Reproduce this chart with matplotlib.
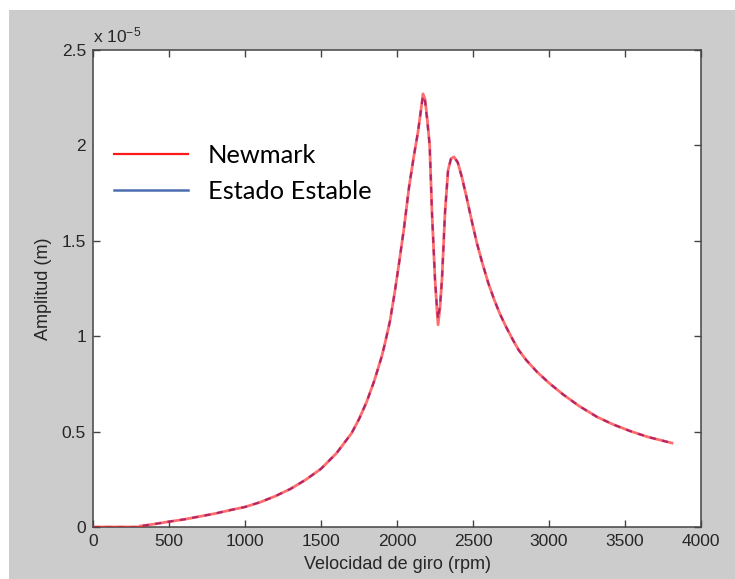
import matplotlib.pyplot as plt
from matplotlib.lines import Line2D
from matplotlib.patches import Rectangle

plt.rcParams['font.family'] = ['Liberation Sans', 'DejaVu Sans']
plt.rcParams['mathtext.default'] = 'regular'

# rotor speed (rpm) and amplitude (x 1e-5 m)
rpm = [0, 300, 310, 400, 500, 600, 700, 800, 900, 1000, 1100, 1200, 1300,
       1400, 1500, 1600, 1700, 1750, 1800, 1850, 1900, 1920, 1940, 1954,
       1985, 2013, 2045, 2079, 2110, 2138, 2155, 2171, 2185, 2200, 2215,
       2230, 2250, 2262, 2270, 2283, 2296, 2316, 2336, 2355, 2375, 2400,
       2428, 2460, 2493, 2525, 2559, 2600, 2640, 2678, 2720, 2763, 2800,
       2850, 2921, 3000, 3092, 3200, 3316, 3420, 3533, 3650, 3809]
newmark = [0, 0, 0.005, 0.015, 0.028, 0.04, 0.055, 0.07, 0.088, 0.105, 0.13,
           0.162, 0.20, 0.248, 0.305, 0.385, 0.49, 0.565, 0.655, 0.765, 0.895,
           0.96, 1.03, 1.08, 1.23, 1.38, 1.56, 1.78, 1.94, 2.07, 2.17, 2.27,
           2.24, 2.13, 2.00, 1.65, 1.30, 1.15, 1.06, 1.15, 1.30, 1.65, 1.87,
           1.93, 1.94, 1.91, 1.83, 1.72, 1.60, 1.49, 1.39, 1.28, 1.19, 1.115,
           1.045, 0.98, 0.928, 0.875, 0.813, 0.755, 0.695, 0.633, 0.577, 0.538,
           0.503, 0.472, 0.44]
estado = [0, 0, 0.005, 0.015, 0.028, 0.04, 0.055, 0.07, 0.088, 0.105, 0.13,
          0.162, 0.20, 0.248, 0.305, 0.385, 0.49, 0.565, 0.655, 0.765, 0.895,
          0.96, 1.03, 1.08, 1.23, 1.38, 1.56, 1.78, 1.94, 2.07, 2.17, 2.26,
          2.23, 2.12, 2.00, 1.65, 1.30, 1.16, 1.09, 1.16, 1.30, 1.65, 1.87,
          1.93, 1.94, 1.91, 1.83, 1.72, 1.60, 1.49, 1.39, 1.28, 1.19, 1.115,
          1.045, 0.98, 0.928, 0.875, 0.813, 0.755, 0.695, 0.633, 0.577, 0.538,
          0.503, 0.472, 0.44]

xticks = [0, 500, 1000, 1500, 2000, 2500, 3000, 3500, 4000]
yticks = [0, 0.5, 1, 1.5, 2, 2.5]
ytick_labels = ['0', '0.5', '1', '1.5', '2', '2.5']
series_names = ['Newmark', 'Estado Estable']

W, H = 735, 579
fig = plt.figure(figsize=(W / 100, H / 100), dpi=100, facecolor='white')
# MATLAB grey figure panel (white margin on top and left)
fig.patches.append(Rectangle((9 / W, 0), 1 - 9 / W, (H - 10) / H,
                             transform=fig.transFigure, facecolor='#cccccc',
                             edgecolor='none', zorder=-10))

ax = fig.add_axes([93 / W, 52 / H, (701 - 93) / W, (527 - 50) / H])
ax.set_facecolor('white')

ax.plot(rpm, estado, color='#2a2ae0', lw=1.5, linestyle=(0, (3, 3)), zorder=2)
ax.plot(rpm, newmark, color='#ff2020', lw=2.0, alpha=0.65, zorder=3)

ax.set_xlim(0, 4000)
ax.set_ylim(0, 2.5)
ax.set_xticks(xticks)
ax.set_xticklabels([str(t) for t in xticks])
ax.set_yticks(yticks)
ax.set_yticklabels(ytick_labels)
ax.tick_params(direction='in', length=5, width=1, top=True, right=True,
               labelsize=12.5, labelcolor='#262626', color='#444444', pad=5)
for sp in ax.spines.values():
    sp.set_color('#444444')
    sp.set_linewidth(1.1)

ax.set_xlabel('Velocidad de giro (rpm)', fontsize=13, color='#262626', labelpad=5)
ax.set_ylabel('Amplitud (m)', fontsize=13, color='#262626', labelpad=7)
ax.text(0.0, 1.01, 'x 10$^{-5}$', transform=ax.transAxes, fontsize=12.5,
        color='#262626', ha='left', va='bottom')

# pasted legend: white box covering the left spine
ax.add_patch(Rectangle((94 / W, 1 - 218 / H), (385 - 94) / W, (218 - 127) / H,
                       transform=fig.transFigure, facecolor='white',
                       edgecolor='none', clip_on=False, zorder=4))
handles = [Line2D([], [], color='#ff1a1a', lw=1.6),
           Line2D([], [], color='#4a6fb0', lw=1.8)]
leg = ax.legend(handles, series_names, loc='upper left',
                bbox_to_anchor=(114 / W, 1 - 144 / H),
                bbox_transform=fig.transFigure, frameon=False, borderpad=0,
                borderaxespad=0, handlelength=2.9, handletextpad=0.8,
                labelspacing=0.5, prop={'family': 'Lato', 'size': 18.3})
leg.set_zorder(5)

fig.savefig('out.png', dpi=100, facecolor=fig.get_facecolor())
